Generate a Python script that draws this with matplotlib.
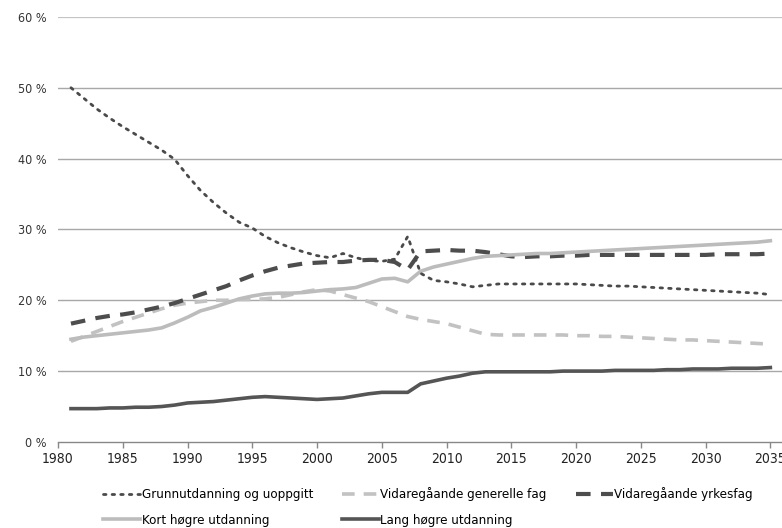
import numpy as np
import matplotlib
matplotlib.use("Agg")
import matplotlib.pyplot as plt

plt.rcParams['font.family'] = ['DejaVu Sans']
plt.rcParams['font.stretch'] = 'condensed'

years = list(range(1981, 2036))

grunn = [50.0, 48.5, 47.0, 45.7, 44.5, 43.4, 42.3, 41.2, 39.9, 37.6,
         35.5, 33.8, 32.3, 31.0, 30.2, 29.0, 28.1, 27.4, 26.8, 26.3,
         26.0, 26.6, 26.0, 25.6, 25.5, 25.8, 29.0, 23.8, 22.8, 22.6,
         22.3, 21.9, 22.1, 22.3, 22.3, 22.3, 22.3, 22.3, 22.3, 22.3,
         22.2, 22.1, 22.0, 22.0, 21.9, 21.8, 21.7, 21.6, 21.5, 21.4,
         21.3, 21.2, 21.1, 21.0, 20.8]

generelle = [14.2, 14.9, 15.6, 16.3, 17.0, 17.6, 18.2, 18.8, 19.3, 19.6,
             19.8, 20.0, 20.0, 20.1, 20.1, 20.2, 20.4, 20.8, 21.2, 21.5,
             21.3, 20.8, 20.3, 19.8, 19.1, 18.4, 17.7, 17.3, 17.0, 16.7,
             16.2, 15.7, 15.2, 15.1, 15.1, 15.1, 15.1, 15.1, 15.1, 15.0,
             15.0, 14.9, 14.9, 14.8, 14.7, 14.6, 14.5, 14.4, 14.4, 14.3,
             14.2, 14.1, 14.0, 13.9, 13.8]

yrkesfag = [16.7, 17.1, 17.5, 17.8, 18.0, 18.3, 18.7, 19.1, 19.6, 20.2,
            20.8, 21.4, 22.0, 22.8, 23.5, 24.1, 24.6, 24.9, 25.2, 25.3,
            25.4, 25.4, 25.6, 25.7, 25.7, 25.4, 24.3, 26.9, 27.0, 27.1,
            27.0, 27.0, 26.8, 26.5, 26.2, 26.1, 26.2, 26.2, 26.3, 26.3,
            26.4, 26.4, 26.4, 26.4, 26.4, 26.4, 26.4, 26.4, 26.4, 26.4,
            26.5, 26.5, 26.5, 26.5, 26.6]

kort = [14.5, 14.8, 15.0, 15.2, 15.4, 15.6, 15.8, 16.1, 16.8, 17.6,
        18.5, 19.0, 19.6, 20.2, 20.6, 20.9, 21.0, 21.0, 21.1, 21.3,
        21.5, 21.6, 21.8, 22.4, 23.0, 23.1, 22.6, 24.1, 24.7, 25.1,
        25.5, 25.9, 26.2, 26.3, 26.4, 26.5, 26.6, 26.6, 26.7, 26.8,
        26.9, 27.0, 27.1, 27.2, 27.3, 27.4, 27.5, 27.6, 27.7, 27.8,
        27.9, 28.0, 28.1, 28.2, 28.4]

lang = [4.7, 4.7, 4.7, 4.8, 4.8, 4.9, 4.9, 5.0, 5.2, 5.5,
        5.6, 5.7, 5.9, 6.1, 6.3, 6.4, 6.3, 6.2, 6.1, 6.0,
        6.1, 6.2, 6.5, 6.8, 7.0, 7.0, 7.0, 8.2, 8.6, 9.0,
        9.3, 9.7, 9.9, 9.9, 9.9, 9.9, 9.9, 9.9, 10.0, 10.0,
        10.0, 10.0, 10.1, 10.1, 10.1, 10.1, 10.2, 10.2, 10.3, 10.3,
        10.3, 10.4, 10.4, 10.4, 10.5]

labels = ["Grunnutdanning og uoppgitt", "Vidaregåande generelle fag",
          "Vidaregåande yrkesfag", "Kort høgre utdanning", "Lang høgre utdanning"]

fig = plt.figure(figsize=(7.82, 5.28), dpi=100)
ax = fig.add_axes([0.0742, 0.163, 0.9258, 0.805])

# grid lines
for v in range(10, 61, 10):
    ax.axhline(v, color="#c4c4c4" if v == 60 else "#a8a8a8", lw=1.6 if v == 60 else 1.0, zorder=1)

h1, = ax.plot(years, grunn, color="#4a4a4a", lw=2.0, linestyle=(0, (0.9, 2.2)),
              dash_capstyle="round", zorder=3)
h2, = ax.plot(years, generelle, color="#c2c2c2", lw=2.6, linestyle=(0, (3.5, 2.5)), zorder=2)
h3, = ax.plot(years, yrkesfag, color="#4d4d4d", lw=3.0, linestyle=(0, (3.5, 2.5)), zorder=2)
h4, = ax.plot(years, kort, color="#bcbcbc", lw=2.6, zorder=2)
h5, = ax.plot(years, lang, color="#555555", lw=2.6, zorder=2)

ax.set_xlim(1980, 2035.9)
ax.set_ylim(0, 60)
ax.set_xticks(range(1980, 2036, 5))
ax.set_yticks(range(0, 61, 10))
ax.set_yticklabels([f"{v} %" for v in range(0, 61, 10)])

for s in ["top", "right", "left"]:
    ax.spines[s].set_visible(False)
ax.spines["bottom"].set_color("#888888")
ax.spines["bottom"].set_linewidth(1.0)
ax.tick_params(axis="y", length=0, pad=8, labelsize=9, colors="#333333")
ax.tick_params(axis="x", length=4, width=1, color="#888888", labelsize=10,
               colors="#222222", pad=3)

handles = [h1, h4, h2, h5, h3]
leg_labels = [labels[0], labels[3], labels[1], labels[4], labels[2]]
fig.legend(handles, leg_labels, ncol=3, loc="lower left", bbox_to_anchor=(0.127, -0.005),
           frameon=False, fontsize=9.5, handlelength=2.8, handletextpad=0.1,
           columnspacing=2.2, labelspacing=0.95, borderaxespad=0.0, borderpad=0.3)

fig.savefig("out.png", dpi=100)
